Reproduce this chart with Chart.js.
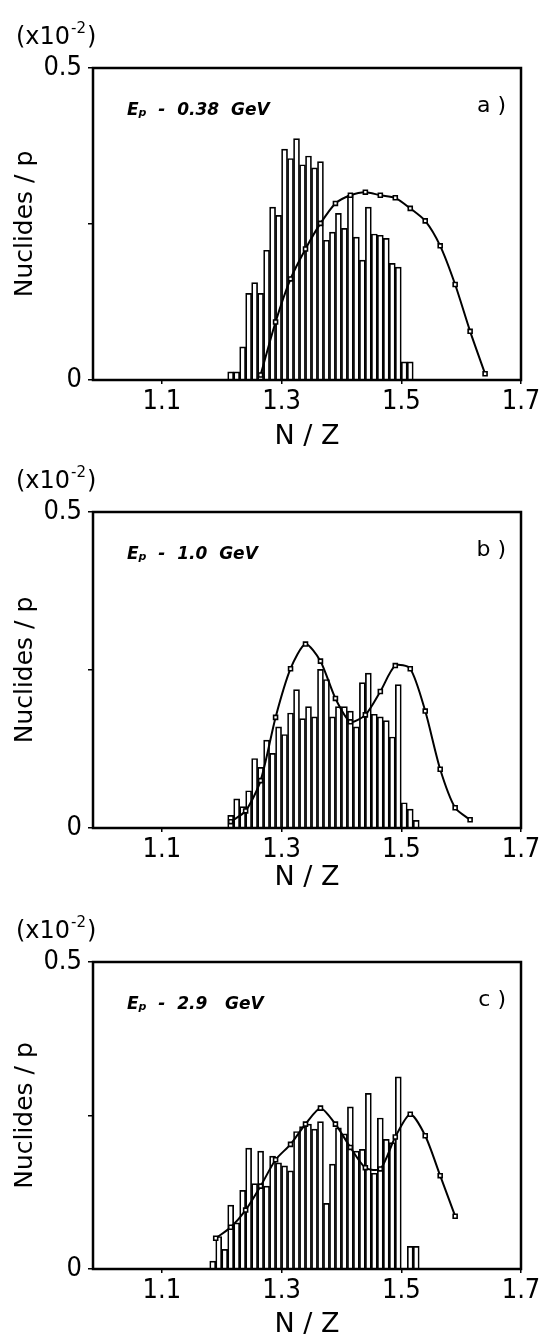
<!DOCTYPE html>
<html>
<head>
<meta charset="utf-8">
<title>N/Z distributions</title>
<script src="https://cdn.jsdelivr.net/npm/chart.js@4.4.1/dist/chart.umd.min.js"></script>
<style>
  html, body { margin: 0; padding: 0; background: #fff; }
  body { width: 544px; height: 1340px; position: relative; overflow: hidden; }
  .panel { position: absolute; left: 0; width: 544px; height: 446px; }
</style>
</head>
<body>
<div class="panel" style="top:0px"><canvas id="chartA" width="544" height="446"></canvas></div>
<div class="panel" style="top:446px"><canvas id="chartB" width="544" height="446"></canvas></div>
<div class="panel" style="top:894px"><canvas id="chartC" width="544" height="446"></canvas></div>
<script>
// N/Z distributions of nuclides per proton, three beam energies

// shared axes
const nzTicks = [1.1, 1.3, 1.5, 1.7];
const yTicks = [0, 0.25, 0.5];

// a) Ep - 0.38 GeV
const barNzA = [1.215, 1.225, 1.235, 1.245, 1.255, 1.265, 1.275, 1.285, 1.295, 1.305, 1.315,
                1.325, 1.335, 1.345, 1.355, 1.365, 1.375, 1.385, 1.395, 1.405, 1.415, 1.425,
                1.435, 1.445, 1.455, 1.465, 1.475, 1.485, 1.495, 1.505, 1.515];
const barValA = [0.013, 0.013, 0.053, 0.139, 0.156, 0.139, 0.208, 0.277, 0.264, 0.370, 0.355,
                 0.387, 0.345, 0.359, 0.340, 0.350, 0.224, 0.237, 0.267, 0.243, 0.296, 0.229,
                 0.192, 0.277, 0.234, 0.232, 0.227, 0.187, 0.181, 0.029, 0.029];
const lineNzA = [1.265, 1.29, 1.315, 1.34, 1.365, 1.39, 1.415, 1.44, 1.465, 1.49, 1.515, 1.54,
                 1.565, 1.59, 1.615, 1.64];
const lineValA = [0.008, 0.093, 0.162, 0.210, 0.251, 0.283, 0.296, 0.301, 0.296, 0.292, 0.275,
                  0.255, 0.215, 0.153, 0.078, 0.010];

// b) Ep - 1.0 GeV
const barNzB = [1.215, 1.225, 1.235, 1.245, 1.255, 1.265, 1.275, 1.285, 1.295, 1.305, 1.315,
                1.325, 1.335, 1.345, 1.355, 1.365, 1.375, 1.385, 1.395, 1.405, 1.415, 1.425,
                1.435, 1.445, 1.455, 1.465, 1.475, 1.485, 1.495, 1.505, 1.515, 1.525];
const barValB = [0.020, 0.046, 0.034, 0.059, 0.110, 0.096, 0.139, 0.118, 0.160, 0.148, 0.182,
                 0.219, 0.173, 0.192, 0.176, 0.251, 0.235, 0.176, 0.192, 0.192, 0.185, 0.160,
                 0.230, 0.245, 0.180, 0.176, 0.170, 0.144, 0.227, 0.040, 0.030, 0.012];
const lineNzB = [1.215, 1.24, 1.265, 1.29, 1.315, 1.34, 1.365, 1.39, 1.415, 1.44, 1.465, 1.49,
                 1.515, 1.54, 1.565, 1.59, 1.615];
const lineValB = [0.010, 0.027, 0.075, 0.175, 0.252, 0.291, 0.264, 0.205, 0.168, 0.179, 0.216,
                  0.257, 0.252, 0.185, 0.093, 0.032, 0.013];

// c) Ep - 2.9 GeV
const barNzC = [1.185, 1.195, 1.205, 1.215, 1.225, 1.235, 1.245, 1.255, 1.265, 1.275, 1.285,
                1.295, 1.305, 1.315, 1.325, 1.335, 1.345, 1.355, 1.365, 1.375, 1.385, 1.395,
                1.405, 1.415, 1.425, 1.435, 1.445, 1.455, 1.465, 1.475, 1.485, 1.495,
                1.515, 1.525];
const barValC = [0.013, 0.053, 0.032, 0.104, 0.075, 0.128, 0.197, 0.139, 0.192, 0.135, 0.184,
                 0.173, 0.168, 0.160, 0.224, 0.232, 0.236, 0.228, 0.240, 0.107, 0.171, 0.230,
                 0.220, 0.264, 0.192, 0.195, 0.286, 0.156, 0.246, 0.211, 0.206, 0.313,
                 0.037, 0.037];
const lineNzC = [1.19, 1.215, 1.24, 1.265, 1.29, 1.315, 1.34, 1.365, 1.39, 1.415, 1.44, 1.465,
                 1.49, 1.515, 1.54, 1.565, 1.59];
const lineValC = [0.050, 0.068, 0.096, 0.135, 0.178, 0.203, 0.236, 0.262, 0.236, 0.198, 0.165,
                  0.163, 0.215, 0.252, 0.217, 0.152, 0.086];

const NARROW = "'Liberation Sans Narrow', 'DejaVu Sans Condensed', 'Arial Narrow', sans-serif";
const SANS = "'DejaVu Sans', 'Liberation Sans', sans-serif";

// text inside / above each frame: (x10^-2), beam energy, panel letter
function panelText(letter, energy) {
    return {
        id: 'panelText',
        afterDraw(chart) {
            const ctx = chart.ctx;
            const area = chart.chartArea;
            ctx.save();
            ctx.fillStyle = '#000';
            ctx.textBaseline = 'alphabetic';

            // (x10^-2)
            let x = 16;
            const yb = area.top - 24;
            ctx.font = '24px ' + SANS;
            ctx.fillText('(x10', x, yb);
            x += ctx.measureText('(x10').width + 1;
            ctx.font = '15px ' + SANS;
            ctx.fillText('-2', x, yb - 11);
            x += ctx.measureText('-2').width + 1;
            ctx.font = '24px ' + SANS;
            ctx.fillText(')', x, yb);

            // Ep - ... GeV
            x = 127;
            const ye = area.top + 47;
            ctx.font = 'italic bold 17px ' + SANS;
            ctx.fillText('E', x, ye);
            x += ctx.measureText('E').width;
            ctx.font = 'italic bold 11px ' + SANS;
            ctx.fillText('p', x, ye + 1);
            x += ctx.measureText('p').width;
            ctx.font = 'italic bold 17px ' + SANS;
            ctx.fillText(energy, x, ye);

            // panel letter
            ctx.font = '22px ' + SANS;
            ctx.textAlign = 'right';
            ctx.fillText(letter, area.right - 15, area.top + 44);

            // frame
            ctx.lineWidth = 2.5;
            ctx.strokeStyle = '#000';
            ctx.strokeRect(area.left, area.top, area.right - area.left, area.bottom - area.top);
            ctx.restore();
        }
    };
}

function makePanel(canvasId, barNz, barVal, lineNz, lineVal, letter, energy, plotTop, plotBottom, titleY) {
    const ctx = document.getElementById(canvasId).getContext('2d');
    const H = 446;
    return new Chart(ctx, {
        type: 'bar',
        data: {
            datasets: [{
                type: 'line',
                data: lineNz.map((x, i) => ({ x: x, y: lineVal[i] })),
                borderColor: '#000',
                borderWidth: 2,
                tension: 0.25,
                pointStyle: 'rect',
                pointRadius: 2.8,
                pointBorderWidth: 1.6,
                pointBackgroundColor: '#fff',
                pointBorderColor: '#000',
                fill: false,
                order: 0
            }, {
                type: 'bar',
                data: barNz.map((x, i) => ({ x: x, y: barVal[i] })),
                backgroundColor: '#fff',
                borderColor: '#000',
                borderWidth: 1.7,
                barPercentage: 1.0,
                categoryPercentage: 1.0,
                grouped: false,
                order: 1
            }]
        },
        options: {
            responsive: false,
            animation: false,
            devicePixelRatio: 1,
            layout: { padding: { top: plotTop, right: 23, left: 0, bottom: 0 } },
            plugins: {
                legend: { display: false },
                tooltip: { enabled: false }
            },
            scales: {
                x: {
                    type: 'linear',
                    min: 0.985,
                    max: 1.7,
                    offset: false,
                    afterBuildTicks: (scale) => { scale.ticks = nzTicks.map(v => ({ value: v })); },
                    afterFit: (scale) => { scale.height = H - plotBottom; },
                    border: { display: false },
                    grid: { display: true, offset: false, drawOnChartArea: false, drawTicks: true,
                            tickLength: 4, color: '#000', lineWidth: 1.5 },
                    ticks: {
                        color: '#000',
                        padding: 2,
                        maxRotation: 0,
                        autoSkip: false,
                        font: { family: NARROW, size: 27 },
                        callback: (v) => v.toFixed(1)
                    },
                    title: {
                        display: true,
                        text: 'N / Z',
                        color: '#000',
                        font: { family: SANS, size: 27, lineHeight: 0.6 },
                        padding: { top: 0, bottom: H - titleY - 8 }
                    }
                },
                y: {
                    min: 0,
                    max: 0.5,
                    afterBuildTicks: (scale) => { scale.ticks = yTicks.map(v => ({ value: v })); },
                    afterFit: (scale) => { scale.width = 93; },
                    border: { display: false },
                    grid: { display: true, drawOnChartArea: false, drawTicks: true,
                            tickLength: 5, color: '#000', lineWidth: 1.5 },
                    ticks: {
                        color: '#000',
                        padding: 6,
                        font: { family: NARROW, size: 27 },
                        callback: (v) => (v === 0 ? '0' : (v === 0.5 ? '0.5' : ''))
                    },
                    title: {
                        display: true,
                        text: 'Nuclides / p',
                        color: '#000',
                        font: { family: SANS, size: 25, lineHeight: 1 },
                        padding: { top: 13, bottom: 0 }
                    }
                }
            }
        },
        plugins: [panelText(letter, energy)]
    });
}

document.addEventListener('DOMContentLoaded', function () {
    makePanel('chartA', barNzA, barValA, lineNzA, lineValA, 'a )', '  -  0.38  GeV', 68, 380, 437);
    makePanel('chartB', barNzB, barValB, lineNzB, lineValB, 'b )', '  -  1.0  GeV', 66, 382, 432);
    makePanel('chartC', barNzC, barValC, lineNzC, lineValC, 'c )', '  -  2.9   GeV', 68, 375, 431);
});
</script>
</body>
</html>
